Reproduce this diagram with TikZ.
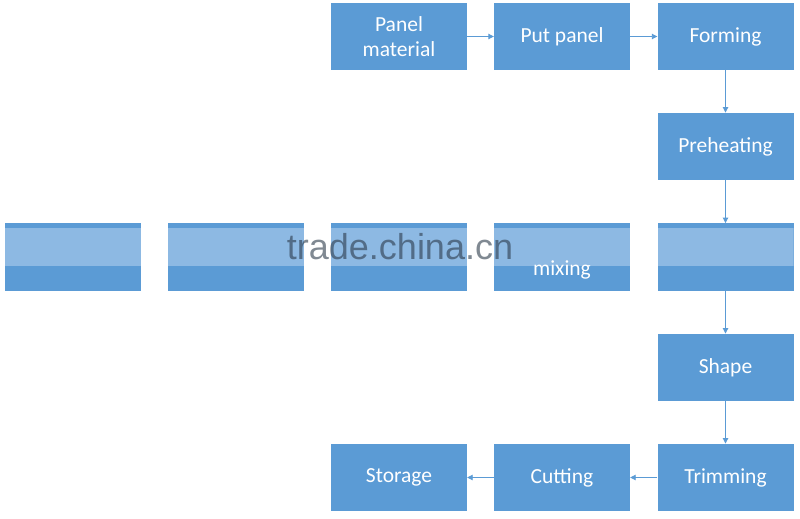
\documentclass[tikz,border=0pt]{standalone}
\usepackage{fontspec}
\setmainfont{Carlito}
\newfontfamily\wmfont{Liberation Sans}
\usetikzlibrary{arrows.meta}
\definecolor{boxblue}{HTML}{5B9BD5}
\definecolor{bandblue}{HTML}{8DB9E3}
\definecolor{arrowblue}{HTML}{5B9BD5}
\definecolor{wmgray}{HTML}{2B3A4A}
\tikzset{
  box/.style={rectangle, fill=boxblue, minimum width=136pt, minimum height=67.5pt,
    inner sep=0pt, text=white, align=center, font=\fontsize{21.5}{25}\selectfont},
  bandbox/.style={box, path picture={\fill[bandblue]
    ([yshift=-5pt]path picture bounding box.north west) rectangle
    ([yshift=25pt]path picture bounding box.south east);}},
  flow/.style={draw=arrowblue, line width=0.9pt, -{Triangle[width=5.5pt,length=5.5pt]}},
}
\begin{document}
\begin{tikzpicture}[x=1pt, y=-1pt]
\useasboundingbox (0,0) rectangle (800,519);
% top row
\node[box] (p1) at (399,36.5) {Panel\\material};
\node[box] (p2) at (562,36.5) {Put panel};
\node[box] (p3) at (725.5,36.5) {Forming};
\node[box] (pre) at (725.5,146.5) {Preheating};
% middle row
\node[bandbox] (m1) at (73,257) {};
\node[bandbox] (m2) at (236,257) {};
\node[bandbox] (m3) at (399,257) {};
\node[bandbox] (m4) at (562,257) {};
\node[bandbox] (m5) at (725.5,257) {};
\node[text=white, font=\fontsize{21.5}{25}\selectfont, inner sep=0pt] (mix) at (562,270) {mixing};
% lower
\node[box] (shape) at (725.5,367.5) {Shape};
\node[box] (trim) at (725.5,477.5) {Trimming};
\node[box] (cut) at (562,477.5) {Cutting};
\node[box] (stor) at (399,477.5) {Storage};
% arrows
\draw[flow] (p1) -- (p2);
\draw[flow] (p2) -- (p3);
\draw[flow] (p3) -- (pre);
\draw[flow] (pre) -- (m5);
\draw[flow] (m5) -- (shape);
\draw[flow] (shape) -- (trim);
\draw[flow] (trim) -- (cut);
\draw[flow] (cut) -- (stor);
% watermark
\node[text=wmgray, text opacity=0.6, font=\wmfont\fontsize{36}{40}\selectfont, inner sep=0pt] (wm) at (400,247) {trade.china.cn};
\end{tikzpicture}
\end{document}
